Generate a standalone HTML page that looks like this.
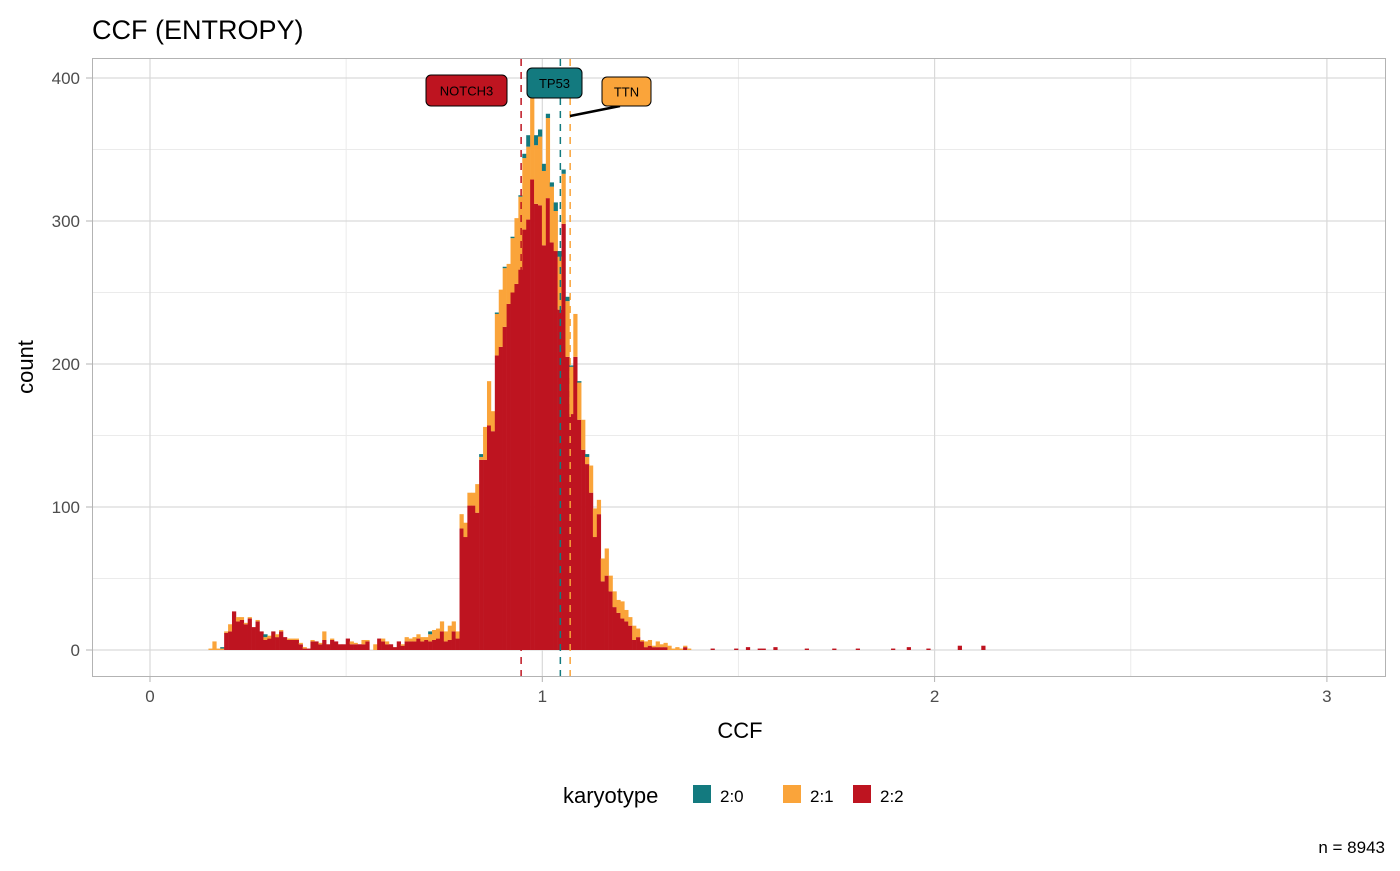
<!DOCTYPE html>
<html><head><meta charset="utf-8"><style>
body{margin:0;background:#fff;font-family:"Liberation Sans",Arial,sans-serif}
svg text{font-family:"Liberation Sans",Arial,sans-serif}
</style></head><body>
<svg id="chart" width="1400" height="866" xmlns="http://www.w3.org/2000/svg">
<text x="92" y="39" font-size="27" fill="#000">CCF (ENTROPY)</text>
<g id="grid"></g>
<g id="bars"></g>
<g id="vlines"></g>
<rect x="92.5" y="58.5" width="1293" height="618" fill="none" stroke="#b3b3b3" stroke-width="1"/>
<g id="xt"></g>
<g id="yt"></g>
<text x="740" y="738" font-size="22" text-anchor="middle">CCF</text>
<text transform="translate(33,367) rotate(-90)" font-size="22" text-anchor="middle">count</text>
<g id="labels"></g>
<g>
<text x="563" y="803" font-size="22">karyotype</text>
<rect x="693" y="785" width="18" height="18" fill="#137A7F"/>
<text x="720" y="802" font-size="17">2:0</text>
<rect x="783" y="785" width="18" height="18" fill="#FAA43A"/>
<text x="810" y="802" font-size="17">2:1</text>
<rect x="853" y="785" width="18" height="18" fill="#BE1420"/>
<text x="880" y="802" font-size="17">2:2</text>
</g>
<text x="1385" y="853" font-size="17" text-anchor="end">n = 8943</text>
</svg>
<script>
const binStart = 0.149;
const binWidth = 0.01;
const red22 = [0,0,0,0,12,13,27,20,21,18,22,16,20,13,7,8,13,9,13,9,7,7,7,4,1,1,6,6,4,7,4,7,6,4,4,8,4,4,4,4,6,0,0,8,6,4,4,2,6,3,6,6,6,8,6,7,6,7,8,13,6,7,13,8,85,79,101,101,96,133,133,157,153,206,212,226,242,250,256,266,294,301,329,312,311,283,316,285,279,238,298,205,165,205,161,140,130,110,79,95,48,52,41,30,26,22,20,17,7,9,6,2,3,2,2,2,2,0,0,0,0,2,0];
const orange21 = [1,6,1,1,1,5,0,3,2,1,1,0,1,0,2,2,0,2,1,0,1,1,1,1,1,0,1,0,1,6,0,1,0,0,0,0,2,1,0,3,1,0,4,0,2,2,0,0,0,1,3,2,3,3,3,2,5,7,7,7,7,10,7,5,10,10,9,9,20,2,23,31,14,29,40,41,28,38,46,51,50,51,58,41,48,52,56,39,28,37,35,39,33,30,26,21,5,19,20,10,16,19,11,11,9,12,8,6,10,6,1,4,4,1,4,2,3,3,1,2,1,1,1];
const teal20 = [0,0,0,1,0,0,0,0,0,0,0,0,0,0,2,0,0,0,0,0,0,0,0,0,0,0,0,0,0,0,0,0,0,0,0,0,0,0,0,0,0,0,0,0,0,0,0,0,0,0,0,0,0,0,0,0,2,0,0,0,0,0,0,0,0,0,0,0,0,2,0,0,0,1,0,1,0,1,0,1,3,8,0,7,5,5,3,3,6,4,3,3,1,0,1,0,2,0,0,0,0,0,0,0,0,0,0,0,0,0,0,0,0,0,0,0,0,0,0,0,0,0,0];
const tailBins = [128,134,137,140,141,144,152,159,165,174,178,183,191,197];
const tailRed = [1,1,2,1,1,2,1,1,1,1,2,1,3,3];
const xTicks = [0,1,2,3];
const xMinor = [0.5,1.5,2.5];
const yTicks = [0,100,200,300,400];
const yMinor = [50,150,250,350];
const lineGenes = ["NOTCH3","TP53","TTN"];
const lineCCF = [0.946,1.046,1.071];

const NS="http://www.w3.org/2000/svg";
const X = v => 150 + v*392.3;
const Y = c => 650 - c*1.43;
const colR="#BE1420", colO="#FAA43A", colT="#137A7F";
function mk(tag, attrs, parent){const e=document.createElementNS(NS,tag);for(const k in attrs)e.setAttribute(k,attrs[k]);parent.appendChild(e);return e;}
const grid=document.getElementById('grid');
yMinor.forEach(v=>{const l=mk('line',{x1:93,x2:1385,y1:Y(v),y2:Y(v),stroke:'#ebebeb','stroke-width':1},grid);

});
xMinor.forEach(v=>{const l=mk('line',{x1:X(v),x2:X(v),y1:59,y2:676,stroke:'#ebebeb','stroke-width':1},grid);

});
yTicks.forEach(v=>{const l=mk('line',{x1:93,x2:1385,y1:Y(v),y2:Y(v),stroke:'#d9d9d9','stroke-width':1.2},grid);

});
xTicks.forEach(v=>{const l=mk('line',{x1:X(v),x2:X(v),y1:59,y2:676,stroke:'#d9d9d9','stroke-width':1.2},grid);

});
const bars=document.getElementById('bars');
function bar(i,y0,c,col,name){ if(c<=0)return;
 const x0=X(binStart+i*binWidth), x1=X(binStart+(i+1)*binWidth);
 const r=mk('rect',{x:x0,y:Y(y0+c),width:x1-x0+0.3,height:Y(y0)-Y(y0+c),fill:col},bars);
 
 }
red22.forEach((r,i)=>{const o=orange21[i]||0,t=teal20[i]||0;
 bar(i,0,r,colR,'bar-2-2');bar(i,r,o,colO,'bar-2-1');bar(i,r+o,t,colT,'bar-2-0');});
tailBins.forEach((b,k)=>bar(b,0,tailRed[k],colR,'bar-2-2'));
const vl=document.getElementById('vlines');
const lineCols=[colR,colT,colO];
lineCCF.forEach((v,k)=>{const l=mk('line',{x1:X(v),x2:X(v),y1:59,y2:676,stroke:lineCols[k],'stroke-width':1.5,'stroke-dasharray':'7,6'},vl);

});
const xt=document.getElementById('xt');
xTicks.forEach(v=>{
const m=mk('line',{x1:X(v),x2:X(v),y1:677,y2:682,stroke:'#b3b3b3','stroke-width':1},xt);


const t=mk('text',{x:X(v),y:702,'font-size':17,fill:'#4d4d4d','text-anchor':'middle'},xt);t.textContent=v;

});
const yt=document.getElementById('yt');
yTicks.forEach(v=>{
const m=mk('line',{x1:86,x2:92,y1:Y(v),y2:Y(v),stroke:'#b3b3b3','stroke-width':1},yt);


const t=mk('text',{x:80,y:Y(v)+6,'font-size':17,fill:'#4d4d4d','text-anchor':'end'},yt);t.textContent=v;

});
const lab=document.getElementById('labels');
const boxX=[426,527,602], boxY=[75,68,77], boxW=[81,55,49], boxH=[31,30,29];
mk('line',{x1:620,y1:106,x2:570,y2:116,stroke:'#000','stroke-width':2.5},lab);
lineGenes.forEach((g,k)=>{const r=mk('rect',{x:boxX[k],y:boxY[k],width:boxW[k],height:boxH[k],rx:5,fill:lineCols[k],stroke:'#000','stroke-width':1},lab);


const t=mk('text',{x:boxX[k]+boxW[k]/2,y:boxY[k]+boxH[k]/2+5,'font-size':13,'text-anchor':'middle',fill:'#000'},lab);t.textContent=g;

});
</script>
</body></html>
